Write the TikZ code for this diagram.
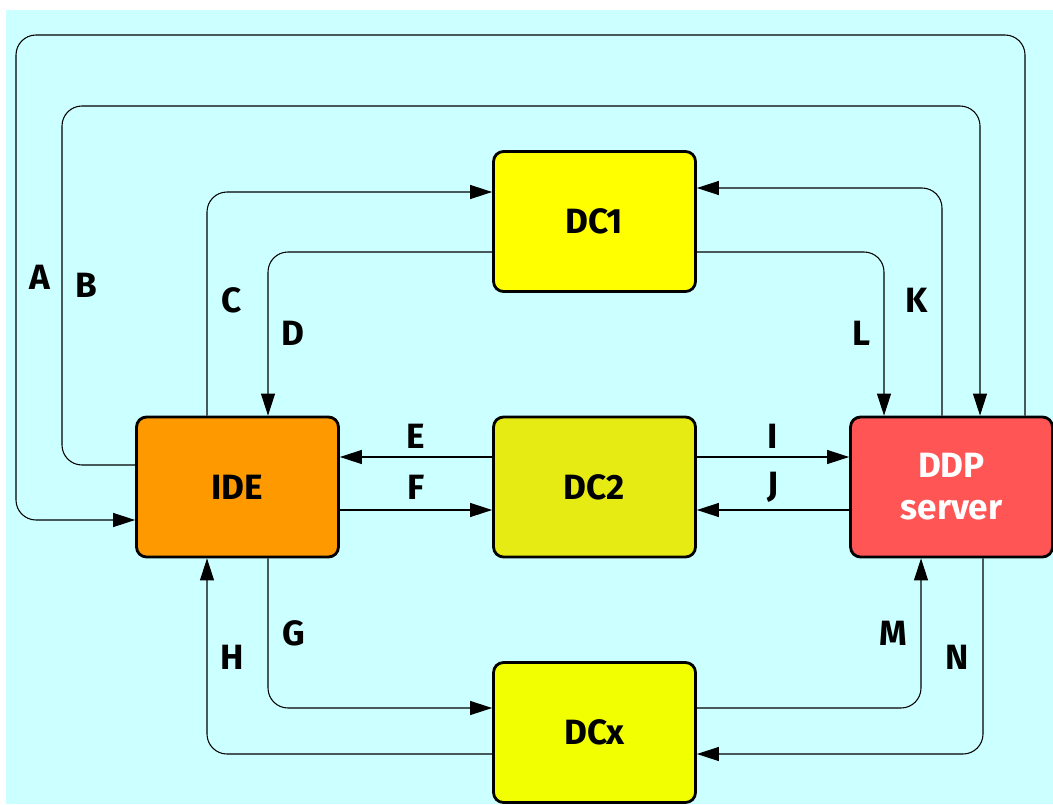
\documentclass[tikz,border=0pt]{standalone}
\usepackage{fontspec}
\setmainfont{Fira Sans}
\usetikzlibrary{arrows.meta}
\definecolor{bgcyan}{HTML}{CCFFFF}
\definecolor{ideorange}{HTML}{FF9900}
\definecolor{dconeyellow}{HTML}{FFFF00}
\definecolor{dctwoolive}{HTML}{E6EB14}
\definecolor{dcxyellow}{HTML}{F2FF00}
\definecolor{ddpred}{HTML}{FF5555}
\tikzset{
  box/.style={draw, line width=1.6pt, rounded corners=0.2cm, minimum width=4.04cm,
    minimum height=2.8cm, align=center, font=\bfseries\fontsize{20}{24}\selectfont},
  link/.style={line width=0.6pt, rounded corners=0.4cm, -{Triangle[length=0.44cm,width=0.28cm]}},
  lbl/.style={font=\bfseries\fontsize{20}{24}\selectfont}
}
\begin{document}
\begin{tikzpicture}[x=0.02cm,y=-0.02cm]
      \useasboundingbox (0,0) rectangle (1053,804);
      \fill[bgcyan] (6,10) rectangle (1053,804);
      \node[box,fill=ideorange] (ide) at (237.5,487) {IDE};
      \node[box,fill=dconeyellow] (dc1) at (594.5,221.5) {DC1};
      \node[box,fill=dctwoolive] (dc2) at (594.5,487) {DC2};
      \node[box,fill=dcxyellow] (dcx) at (594.5,732.5) {DCx};
      \node[box,fill=ddpred,text=white] (ddp) at (951.5,487) {DDP\\server};
      % outer loops
      \draw[link] (ddp.north -| 1025,0) |- (16,35) |- (ide.west |- 0,520);
      \draw[link] (ide.west |- 0,465) -| (62,106) -| (ddp.north -| 980,0);
      % IDE <-> DC1
      \draw[link] (ide.north -| 207,0) |- (dc1.west |- 0,192);
      \draw[link] (dc1.west |- 0,252) -| (ide.north -| 268,0);
      % middle row
      \draw[link] (dc2.west |- 0,457) -- (ide.east |- 0,457);
      \draw[link] (ide.east |- 0,510) -- (dc2.west |- 0,510);
      \draw[link] (dc2.east |- 0,457) -- (ddp.west |- 0,457);
      \draw[link] (ddp.west |- 0,510) -- (dc2.east |- 0,510);
      % DDP <-> DC1
      \draw[link] (ddp.north -| 942,0) |- (dc1.east |- 0,188);
      \draw[link] (dc1.east |- 0,252) -| (ddp.north -| 884,0);
      % IDE <-> DCx
      \draw[link] (ide.south -| 268,0) |- (dcx.west |- 0,708);
      \draw[link] (dcx.west |- 0,754) -| (ide.south -| 207,0);
      % DDP <-> DCx
      \draw[link] (dcx.east |- 0,708) -| (ddp.south -| 921,0);
      \draw[link] (ddp.south -| 983,0) |- (dcx.east |- 0,754);
      % labels
      \node[lbl] (la) at (40,277) {A};
      \node[lbl] (lb) at (86,285) {B};
      \node[lbl] (lc) at (232,300) {C};
      \node[lbl] (ld) at (293,333) {D};
      \node[lbl] (le) at (416,436) {E};
      \node[lbl] (lf) at (416,487) {F};
      \node[lbl] (lg) at (294,633) {G};
      \node[lbl] (lh) at (232,657) {H};
      \node[lbl] (li) at (773,436) {I};
      \node[lbl] (lj) at (773,487) {J};
      \node[lbl] (lk) at (917,300) {K};
      \node[lbl] (ll) at (861,333) {L};
      \node[lbl] (lm) at (893,633) {M};
      \node[lbl] (ln) at (957,657) {N};
    \end{tikzpicture}
\end{document}
